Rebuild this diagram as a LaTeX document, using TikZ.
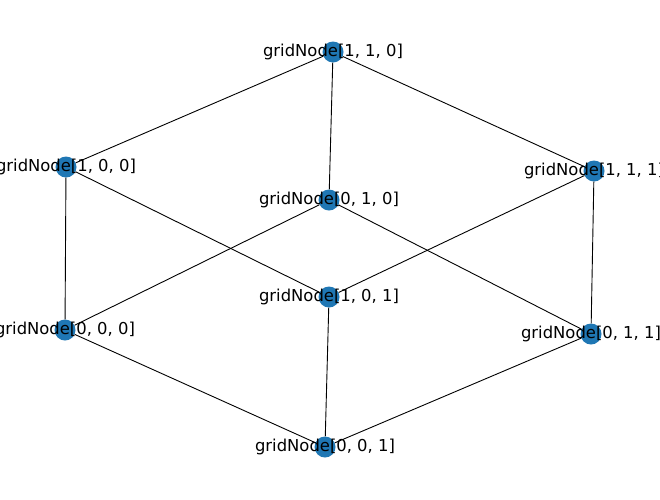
\documentclass[tikz,border=0pt]{standalone}
\usepackage{fontspec}
\setmainfont{DejaVu Sans}
\definecolor{nodeblue}{HTML}{1F77B4}
\tikzset{
    grid dot/.style={circle, fill=nodeblue, minimum size=21pt, inner sep=0pt},
    grid label/.style={font=\fontsize{16.4}{19}\selectfont, inner sep=0pt},
    grid edge/.style={black, line width=0.9pt},
}
\begin{document}
\begin{tikzpicture}[x=1pt,y=-1pt]
    \useasboundingbox (0,0) rectangle (660,499);
    \clip (0,0) rectangle (660,499);
    \node [grid dot] (n110) at (333,52)  {};
    \node [grid dot] (n100) at (66,167)  {};
    \node [grid dot] (n010) at (329,200) {};
    \node [grid dot] (n111) at (594,171) {};
    \node [grid dot] (n101) at (329,297) {};
    \node [grid dot] (n000) at (65,330)  {};
    \node [grid dot] (n011) at (591,334) {};
    \node [grid dot] (n001) at (325,447) {};
    \path[grid edge]
        (n110) edge (n100)
        (n110) edge (n010)
        (n110) edge (n111)
        (n100) edge (n000)
        (n100) edge (n101)
        (n010) edge (n000)
        (n010) edge (n011)
        (n111) edge (n101)
        (n111) edge (n011)
        (n000) edge (n001)
        (n101) edge (n001)
        (n011) edge (n001);
    \node [grid label] at (n110) {gridNode[1, 1, 0]};
    \node [grid label] at (n100) {gridNode[1, 0, 0]};
    \node [grid label] at (n010) {gridNode[0, 1, 0]};
    \node [grid label] at (n111) {gridNode[1, 1, 1]};
    \node [grid label] at (n101) {gridNode[1, 0, 1]};
    \node [grid label] at (n000) {gridNode[0, 0, 0]};
    \node [grid label] at (n011) {gridNode[0, 1, 1]};
    \node [grid label] at (n001) {gridNode[0, 0, 1]};
\end{tikzpicture}
\end{document}
